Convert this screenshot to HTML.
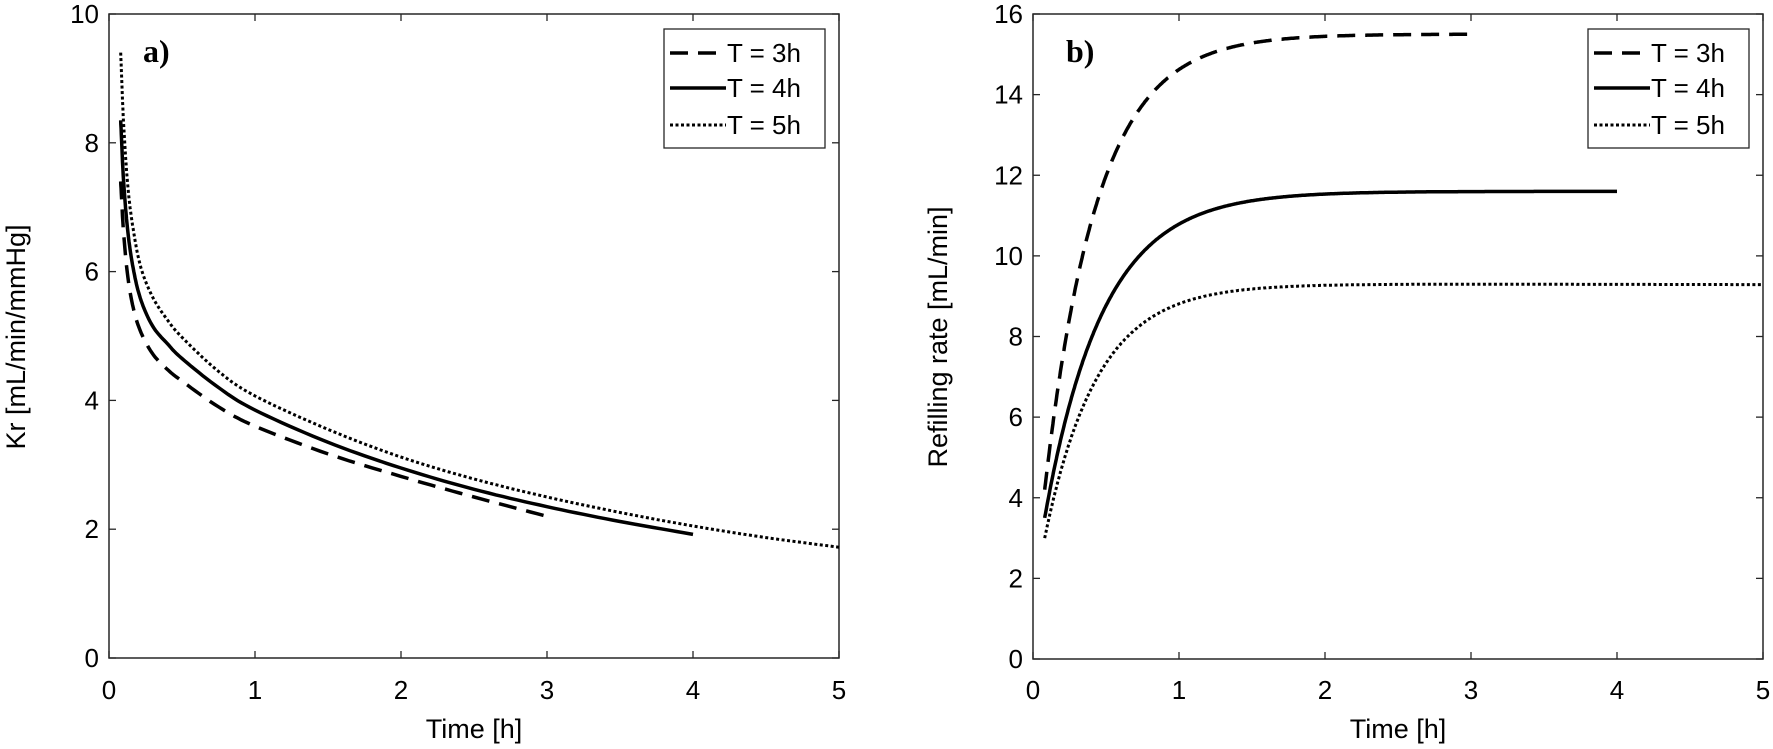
<!DOCTYPE html>
<html><head><meta charset="utf-8"><style>
html,body{margin:0;padding:0;background:#fff;}
svg{display:block;font-family:"Liberation Sans",Arial,sans-serif;}
</style></head><body>
<svg id="s" width="1773" height="749" viewBox="0 0 1773 749" xmlns="http://www.w3.org/2000/svg">
<rect width="1773" height="749" fill="#fff"/>
<g id="g"></g>
<text x="18" y="337" font-size="27" text-anchor="middle" dominant-baseline="middle" transform="rotate(-90 18 337)">Kr [mL/min/mmHg]</text>
<text x="940" y="337" font-size="27" text-anchor="middle" dominant-baseline="middle" transform="rotate(-90 940 337)">Refilling rate [mL/min]</text>
<text x="474" y="738" font-size="27" text-anchor="middle">Time [h]</text>
<text x="1398" y="738" font-size="27" text-anchor="middle">Time [h]</text>
<text x="143" y="62" font-size="32" font-weight="bold" font-family="Liberation Serif,serif">a)</text>
<text x="1066" y="62" font-size="32" font-weight="bold" font-family="Liberation Serif,serif">b)</text>
</svg>
<script>
var g=document.getElementById('g'),NS='http://www.w3.org/2000/svg';
function el(t,a,txt){var e=document.createElementNS(NS,t);for(var k in a)e.setAttribute(k,a[k]);if(txt!==undefined)e.textContent=txt;g.appendChild(e);return e;}
function axes(L,R,T,B,ymax,ystep){
 var ax='#262626';
 el('rect',{x:L,y:T,width:R-L,height:B-T,fill:'none',stroke:ax,'stroke-width':1.5});
 for(var i=0;i<=5;i++){var x=L+(R-L)*i/5;
  el('line',{x1:x,y1:B,x2:x,y2:B-7,stroke:ax,'stroke-width':1.3});
  el('line',{x1:x,y1:T,x2:x,y2:T+7,stroke:ax,'stroke-width':1.3});
  el('text',{x:x,y:699,'font-size':26,'text-anchor':'middle'},String(i));}
 for(var v=0;v<=ymax;v+=ystep){var y=B-(B-T)*v/ymax;
  el('line',{x1:L,y1:y,x2:L+7,y2:y,stroke:ax,'stroke-width':1.3});
  el('line',{x1:R,y1:y,x2:R-7,y2:y,stroke:ax,'stroke-width':1.3});
  el('text',{x:L-10,y:y+9,'font-size':26,'text-anchor':'end'},String(v));}
}
var styles=[{'stroke-dasharray':'18,10'},{},{'stroke-dasharray':'3,2.5'}];
function curve(L,R,T,B,ymax,pts,st,w){
 var d='';
 var P=pts.map(function(p){return [L+(R-L)*p[0]/5,B-(B-T)*p[1]/ymax];});
 for(var i=0;i<P.length-1;i++){
  var p0=P[Math.max(i-1,0)],p1=P[i],p2=P[i+1],p3=P[Math.min(i+2,P.length-1)];
  for(var s=0;s<10;s++){var t=s/10,t2=t*t,t3=t2*t;
   var x=0.5*((2*p1[0])+(-p0[0]+p2[0])*t+(2*p0[0]-5*p1[0]+4*p2[0]-p3[0])*t2+(-p0[0]+3*p1[0]-3*p2[0]+p3[0])*t3);
   var y=0.5*((2*p1[1])+(-p0[1]+p2[1])*t+(2*p0[1]-5*p1[1]+4*p2[1]-p3[1])*t2+(-p0[1]+3*p1[1]-3*p2[1]+p3[1])*t3);
   d+=(d?'L':'M')+x.toFixed(1)+','+y.toFixed(1);}
 }
 d+='L'+P[P.length-1][0].toFixed(1)+','+P[P.length-1][1].toFixed(1);
 var a={d:d,fill:'none',stroke:'#000','stroke-width':w||3.5};for(var k in st)a[k]=st[k];
 el('path',a);
}
function legend(x){
 el('rect',{x:x,y:29,width:161,height:119,fill:'#fff',stroke:'#262626','stroke-width':1.3});
 var ys=[53,88,125],lab=['T = 3h','T = 4h','T = 5h'];
 for(var i=0;i<3;i++){var a={x1:x+6,y1:ys[i],x2:x+62,y2:ys[i],stroke:'#000','stroke-width':i==2?3:3.5};
  for(var k in styles[i])a[k]=styles[i][k];el('line',a);
  el('text',{x:x+63,y:ys[i]+9,'font-size':26},lab[i]);}
}
var aL=109,aR=839,aT=14,aB=658;
axes(aL,aR,aT,aB,10,2);
curve(aL,aR,aT,aB,10,[[0.08,7.4],[0.1,6.6],[0.13,5.9],[0.17,5.4],[0.22,5.05],[0.3,4.72],[0.4,4.48],[0.5,4.3],[0.75,3.9],[1,3.6],[1.5,3.17],[2,2.82],[2.5,2.5],[3,2.2]],styles[0]);
curve(aL,aR,aT,aB,10,[[0.08,8.35],[0.1,7.4],[0.13,6.6],[0.17,6.0],[0.22,5.55],[0.3,5.15],[0.4,4.88],[0.5,4.65],[0.75,4.2],[1,3.85],[1.5,3.35],[2,2.95],[2.5,2.62],[3,2.35],[3.5,2.12],[4,1.92]],styles[1]);
curve(aL,aR,aT,aB,10,[[0.08,9.4],[0.1,8.3],[0.13,7.3],[0.17,6.6],[0.22,6.05],[0.3,5.6],[0.4,5.25],[0.5,4.98],[0.75,4.45],[1,4.07],[1.5,3.55],[2,3.12],[2.5,2.78],[3,2.5],[3.5,2.26],[4,2.05],[4.5,1.87],[5,1.72]],styles[2],3);
legend(664);
var bL=1033,bR=1763,bT=14,bB=659;
axes(bL,bR,bT,bB,16,2);
function expo(A,B0,tau,tend){var p=[];for(var t=0.08;t<=tend+1e-9;t+=0.04)p.push([t,A-(A-B0)*Math.exp(-(t-0.08)/tau)]);return p;}
curve(bL,bR,bT,bB,16,expo(15.5,4.2,0.36,3),styles[0]);
curve(bL,bR,bT,bB,16,expo(11.6,3.5,0.4,4),styles[1]);
curve(bL,bR,bT,bB,16,expo(9.3,3.0,0.36,5).map(function(p){return [p[0],p[1]-0.005*Math.max(0,p[0]-2.5)];}),styles[2],3);
legend(1588);
</script>
</body></html>
